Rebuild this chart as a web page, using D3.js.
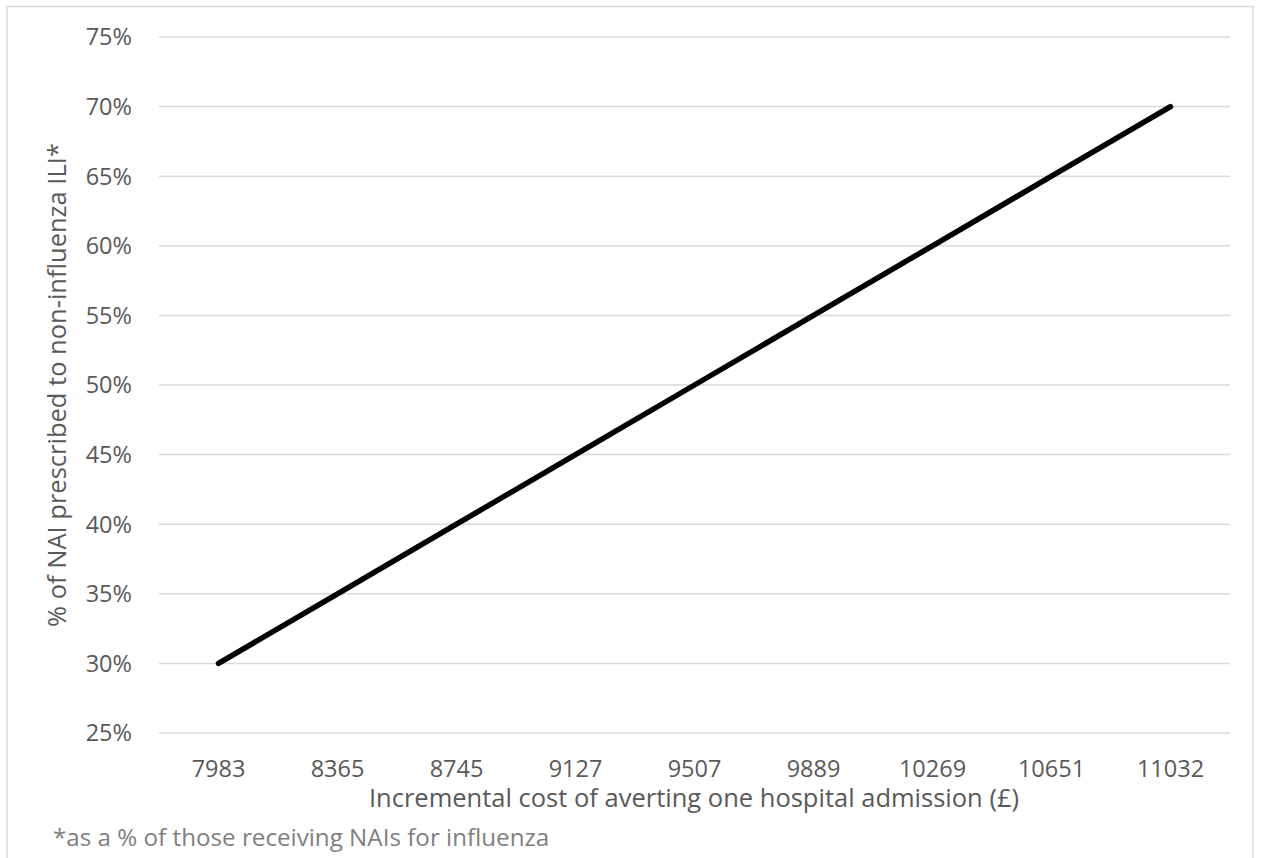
<!DOCTYPE html>
<html>
<head>
<meta charset="utf-8">
<script src="https://cdn.jsdelivr.net/npm/d3@7"></script>
<style>
  body { margin: 0; background: #fff; }
  svg text { font-family: "Open Sans", "Liberation Sans", sans-serif; }
</style>
</head>
<body>
<svg id="chart" width="1261" height="858"></svg>
<script>
// chart data
const costLabels = ["7983", "8365", "8745", "9127", "9507", "9889", "10269", "10651", "11032"];
const pctValues = [0.30, 0.35, 0.40, 0.45, 0.50, 0.55, 0.60, 0.65, 0.70];
const yTicks = [0.25, 0.30, 0.35, 0.40, 0.45, 0.50, 0.55, 0.60, 0.65, 0.70, 0.75];

const svg = d3.select("#chart");

// outer chart-area border
svg.append("rect")
    .attr("x", 7).attr("y", 6.5)
    .attr("width", 1246).attr("height", 870)
    .attr("fill", "none")
    .attr("stroke", "#d9d9d9")
    .attr("stroke-width", 1.5);

const x = d3.scaleBand()
    .domain(costLabels)
    .range([159, 1230]);

const y = d3.scaleLinear()
    .domain([0.25, 0.75])
    .range([733, 37]);

// gridlines
svg.append("g")
    .selectAll("line")
    .data(yTicks)
    .join("line")
    .attr("x1", 159).attr("x2", 1230)
    .attr("y1", d => y(d)).attr("y2", d => y(d))
    .attr("stroke", "#d9d9d9")
    .attr("stroke-width", 1.5);

// y tick labels
const fmt = d3.format(".0%");
svg.append("g")
    .selectAll("text")
    .data(yTicks)
    .join("text")
    .attr("x", 132)
    .attr("y", d => y(d))
    .attr("dy", "0.36em")
    .attr("text-anchor", "end")
    .attr("font-size", "23.5px")
    .attr("fill", "#595959")
    .text(d => fmt(d));

// x tick labels
svg.append("g")
    .selectAll("text")
    .data(costLabels)
    .join("text")
    .attr("x", d => x(d) + x.bandwidth() / 2)
    .attr("y", 777)
    .attr("text-anchor", "middle")
    .attr("font-size", "23.5px")
    .attr("fill", "#595959")
    .text(d => d);

// the line
const line = d3.line()
    .x((d, i) => x(costLabels[i]) + x.bandwidth() / 2)
    .y(d => y(d));

svg.append("path")
    .datum(pctValues)
    .attr("d", line)
    .attr("fill", "none")
    .attr("stroke", "#000")
    .attr("stroke-width", 5.5)
    .attr("stroke-linecap", "round")
    .attr("stroke-linejoin", "round");

// axis titles
svg.append("text")
    .attr("x", 694)
    .attr("y", 807)
    .attr("text-anchor", "middle")
    .attr("font-size", "25.5px")
    .attr("fill", "#595959")
    .text("Incremental cost of averting one hospital admission (£)");

svg.append("text")
    .attr("transform", "translate(66,385) rotate(-90)")
    .attr("text-anchor", "middle")
    .attr("font-size", "25.5px")
    .attr("fill", "#595959")
    .text("% of NAI prescribed to non-influenza ILI*");

// footnote
svg.append("text")
    .attr("x", 53)
    .attr("y", 846)
    .attr("font-size", "24.2px")
    .attr("fill", "#7f7f7f")
    .text("*as a % of those receiving NAIs for influenza");
</script>
</body>
</html>
